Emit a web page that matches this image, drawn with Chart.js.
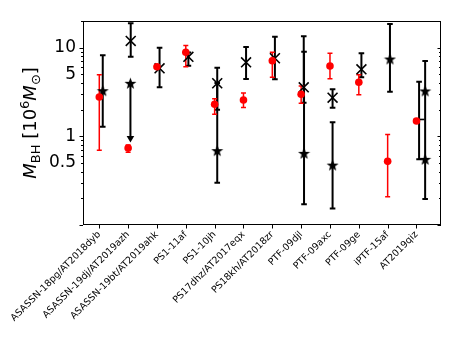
<!DOCTYPE html>
<html><head><meta charset="utf-8">
<script src="https://cdn.jsdelivr.net/npm/chart.js@4"></script>
<style>html,body{margin:0;padding:0;background:#fff}canvas{display:block}</style>
</head><body>
<canvas id="c" width="463" height="347"></canvas>
<script>
// ---------- data ----------
const categories = ['ASASSN-18pg/AT2018dyb','ASASSN-19dj/AT2019azh','ASASSN-19bt/AT2019ahk','PS1-11af','PS1-10jh','PS17dhz/AT2017eqx','PS18kh/AT2018zr','PTF-09djl','PTF-09axc','PTF-09ge','iPTF-15af','AT2019qiz'];
const redValues = [2.78, 0.74, 6.1, 8.87, 2.3, 2.57, 7.13, 2.98, 6.22, 4.07, 0.522, 1.49];
const redLow    = [0.695, 0.66, null, 6.1, 1.78, 2.12, 4.63, 2.36, 4.47, 2.95, 0.208, null];
const redHigh   = [4.96, 0.80, null, 10.6, 2.66, 3.08, 8.87, 3.7, 8.63, 4.96, 1.05, null];
const crossValues = [null, 11.9, 5.85, 7.9, 3.97, 6.84, 7.6, 3.57, 2.73, 5.7, null, 1.55];
const crossLow    = [null, 7.9, 3.57, 6.26, 2.0, 4.43, 4.4, 2.4, 2.1, 4.63, null, 0.55];
const crossHigh   = [null, 18.9, 10.0, 8.8, 5.95, 10.2, 13.3, 13.5, 3.39, 8.63, null, 4.13];
const starValues = [3.27, 3.97, null, null, 0.69, null, null, 0.643, 0.474, null, 7.45, 3.25];
const starLow    = [1.28, null, null, null, 0.30, null, null, 0.171, 0.154, null, 3.18, 0.196];
const starHigh   = [8.2, null, null, null, 4.0, null, null, 9.0, 1.44, null, 18.5, 7.06];
const starLimitTo = [null, 0.85, null, null, null, null, null, null, null, null, null, null];
const starExtraValues = [null, null, null, null, null, null, null, null, null, null, null, 0.55];
const yTickValues = [0.5, 1, 5, 10];

// ---------- layout (horizontal shifts of each series within a category) ----------
const redShift = 0;
const crossShift = 0.09;
const starShift = [0.12, 0.08, 0, 0, 0.09, 0, 0, 0.1, 0.09, 0, 0.08, 0.3];

function pts(vals, shift) {
  const out = [];
  vals.forEach((v, i) => { if (v != null) out.push({x: i + (Array.isArray(shift) ? shift[i] : shift), y: v, i}); });
  return out;
}

// filled five-point star marker
const starImg = document.createElement('canvas');
starImg.width = 13; starImg.height = 13;
(function(){
  const c = starImg.getContext('2d');
  c.beginPath();
  for (let k = 0; k < 10; k++) {
    const r = k % 2 === 0 ? 6.3 : 2.6;
    const a = -Math.PI/2 + k * Math.PI/5;
    const px = 6.5 + r*Math.cos(a), py = 7 + r*Math.sin(a);
    k === 0 ? c.moveTo(px, py) : c.lineTo(px, py);
  }
  c.closePath(); c.fillStyle = '#000'; c.fill();
})();

const errorBars = {
  id: 'errorBars',
  beforeDatasetsDraw(chart) {
    const ctx = chart.ctx, xs = chart.scales.x, ys = chart.scales.y;
    function bar(xv, lo, hi, color, lw, cap) {
      if (lo == null || hi == null) return;
      const x = xs.getPixelForValue(xv), y1 = ys.getPixelForValue(lo), y2 = ys.getPixelForValue(hi);
      ctx.strokeStyle = color; ctx.lineWidth = lw;
      ctx.beginPath();
      ctx.moveTo(x, y1); ctx.lineTo(x, y2);
      ctx.moveTo(x - cap, y1); ctx.lineTo(x + cap, y1);
      ctx.moveTo(x - cap, y2); ctx.lineTo(x + cap, y2);
      ctx.stroke();
    }
    ctx.save();
    categories.forEach((c, i) => {
      bar(i + crossShift, crossLow[i], crossHigh[i], '#000', 2, 2.8);
      bar(i + starShift[i], starLow[i], starHigh[i], '#000', 2, 2.8);
      bar(i + redShift, redLow[i], redHigh[i], '#ff0000', 1.5, 2.5);
      if (starLimitTo[i] != null) {
        const x = xs.getPixelForValue(i + starShift[i]);
        const y1 = ys.getPixelForValue(starValues[i]), y2 = ys.getPixelForValue(starLimitTo[i]);
        ctx.strokeStyle = '#000'; ctx.lineWidth = 2;
        ctx.beginPath(); ctx.moveTo(x, y1); ctx.lineTo(x, y2 - 5); ctx.stroke();
        ctx.fillStyle = '#000';
        ctx.beginPath(); ctx.moveTo(x - 3.8, y2 - 6.5); ctx.lineTo(x + 3.8, y2 - 6.5); ctx.lineTo(x, y2); ctx.closePath(); ctx.fill();
      }
    });
    ctx.restore();
  }
};

const frameTicks = {
  id: 'frameTicks',
  afterDraw(chart) {
    const ctx = chart.ctx, a = chart.chartArea, ys = chart.scales.y, xs = chart.scales.x;
    ctx.save();
    ctx.strokeStyle = '#000'; ctx.lineWidth = 1;
    ctx.strokeRect(a.left + 0.5, a.top + 0.5, a.right - a.left - 1, a.bottom - a.top - 1);
    ctx.beginPath();
    for (let d = -1; d <= 1; d++) {
      for (let m = 1; m <= 9; m++) {
        const v = m * Math.pow(10, d);
        if (v < 0.1 || v > 20) continue;
        const y = Math.round(ys.getPixelForValue(v)) + 0.5;
        const major = (m === 1);
        const len = major ? 3.5 : 2;
        ctx.moveTo(a.left, y); ctx.lineTo(a.left - len, y);
        ctx.moveTo(a.right, y); ctx.lineTo(a.right - len, y);
      }
    }
    categories.forEach((c, i) => {
      const x = Math.round(xs.getPixelForValue(i)) + 0.5;
      ctx.moveTo(x, a.bottom); ctx.lineTo(x, a.bottom + 3.5);
    });
    ctx.stroke();
    // y label with math formatting
    ctx.translate(36, (a.top + a.bottom) / 2);
    ctx.rotate(-Math.PI / 2);
    ctx.fillStyle = '#000';
    ctx.textBaseline = 'alphabetic';
    const big = '18px "DejaVu Sans"', bigI = 'italic 18px "DejaVu Sans"', small = '13px "DejaVu Sans"';
    const parts = [
      {t: 'M', f: bigI, dy: 0}, {t: 'BH', f: small, dy: 4},
      {t: ' [10', f: big, dy: 0}, {t: '6', f: small, dy: -7.5},
      {t: 'M', f: bigI, dy: 0}, {t: '\u2299', f: small, dy: 4},
      {t: ']', f: big, dy: 0}
    ];
    let total = 0;
    parts.forEach(p => { ctx.font = p.f; p.w = ctx.measureText(p.t).width; total += p.w; });
    let x = -total / 2;
    parts.forEach(p => { ctx.font = p.f; ctx.fillText(p.t, x, p.dy); x += p.w; });
    ctx.restore();
  }
};

new Chart(document.getElementById('c'), {
  type: 'scatter',
  data: {
    datasets: [
      {data: pts(redValues, redShift), pointStyle: 'circle', pointRadius: 3.8, backgroundColor: '#ff0000', borderColor: '#ff0000', borderWidth: 0},
      {data: pts(starValues, starShift), pointStyle: starImg, pointRadius: 6, backgroundColor: '#000', borderColor: '#000'},
      {data: pts(starExtraValues, starShift), pointStyle: starImg, pointRadius: 6, backgroundColor: '#000', borderColor: '#000'},
      {data: pts(crossValues, crossShift),
       pointStyle: c => (c.raw && c.raw.i === 11) ? 'line' : 'crossRot',
       pointRadius: c => (c.raw && c.raw.i === 11) ? 5.5 : 7,
       backgroundColor: '#000', borderColor: '#000', borderWidth: 1.6}
    ]
  },
  options: {
    responsive: false, animation: false, devicePixelRatio: 1,
    layout: {padding: {top: 21, right: 22, left: 0, bottom: 0}},
    plugins: {legend: {display: false}, tooltip: {enabled: false}},
    scales: {
      x: {
        type: 'linear', min: -0.565, max: 11.85,
        afterBuildTicks: s => { s.ticks = categories.map((c, i) => ({value: i})); },
        ticks: {callback: v => categories[v], maxRotation: 45, minRotation: 45, autoSkip: false,
                font: {family: 'DejaVu Sans', size: 9.5}, color: '#000', padding: 4},
        grid: {display: false, drawTicks: false}, border: {display: false},
        afterFit: s => { s.height = 122; }
      },
      y: {
        type: 'logarithmic', min: 0.1, max: 20,
        afterBuildTicks: s => { s.ticks = yTickValues.map(v => ({value: v})); },
        ticks: {callback: v => String(v), font: {family: 'DejaVu Sans', size: 17}, color: '#000', padding: 7},
        grid: {display: false, drawTicks: false}, border: {display: false},
        afterFit: s => { s.width = 83; }
      }
    }
  },
  plugins: [errorBars, frameTicks]
});
</script>
</body></html>
